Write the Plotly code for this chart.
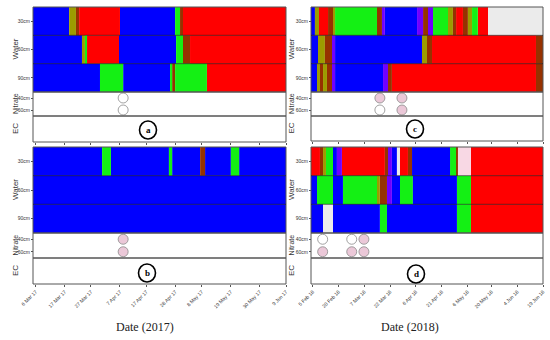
import plotly.graph_objects as go
import pandas as pd

# ---------------- DATA ----------------
# Water status per depth for each panel: segment edges (dates) and states
# States: B=wet(blue) G=green O=olive D=brown R=dry(red) P=purple W=grey K=pink
A30_EDGES = ["2017-03-05", "2017-03-18T17", "2017-03-21T07", "2017-03-22T12", "2017-04-07", "2017-04-27T22", "2017-04-29T19", "2017-04-30T22", "2017-06-09"]
A30_STATES = ["B", "O", "D", "R", "B", "G", "D", "R"]
A60_EDGES = ["2017-03-05", "2017-03-23T14", "2017-03-24T17", "2017-03-25T12", "2017-04-06T15", "2017-04-28T07", "2017-04-30T22", "2017-05-03T14", "2017-06-09"]
A60_STATES = ["B", "O", "G", "R", "B", "G", "D", "R"]
A90_EDGES = ["2017-03-05", "2017-03-30T10", "2017-04-08T05", "2017-04-26", "2017-04-26T19", "2017-04-27T22", "2017-05-10", "2017-06-09"]
A90_STATES = ["B", "G", "B", "G", "D", "G", "R"]

B30_EDGES = ["2017-03-05", "2017-03-31T05", "2017-04-03T14", "2017-04-25T14", "2017-04-26T19", "2017-05-07T10", "2017-05-09T07", "2017-05-19T02", "2017-05-22T05", "2017-06-09"]
B30_STATES = ["B", "G", "B", "G", "B", "D", "B", "G", "B"]
B60_EDGES = ["2017-03-05", "2017-06-09"]
B60_STATES = ["B"]
B90_EDGES = ["2017-03-05", "2017-06-09"]
B90_STATES = ["B"]

C30_EDGES = ["2018-02-04", "2018-02-06T07", "2018-02-08T16", "2018-02-13T22", "2018-02-16T19", "2018-02-18", "2018-03-14T10", "2018-03-17T07", "2018-03-19", "2018-04-06T17", "2018-04-10T05", "2018-04-13T02", "2018-04-16", "2018-04-24T17", "2018-04-27T14", "2018-04-29T10", "2018-05-03T10", "2018-05-06T07", "2018-05-08T17", "2018-05-12T02", "2018-05-18", "2018-06-19"]
C30_STATES = ["B", "O", "R", "D", "O", "G", "D", "P", "B", "P", "D", "P", "G", "O", "D", "R", "D", "O", "G", "R", "W"]
C60_EDGES = ["2018-02-04", "2018-02-08T02", "2018-02-12T02", "2018-02-16T05", "2018-02-18", "2018-04-09T14", "2018-04-12T12", "2018-04-15T10", "2018-06-14T22", "2018-06-19"]
C60_STATES = ["B", "O", "D", "P", "B", "O", "D", "R", "D"]
C90_EDGES = ["2018-02-04", "2018-02-07T12", "2018-02-09T05", "2018-02-11", "2018-02-13T07", "2018-02-16T05", "2018-02-18", "2018-03-17T22", "2018-03-20T19", "2018-03-23T02", "2018-06-14T22", "2018-06-19"]
C90_STATES = ["B", "O", "D", "O", "D", "P", "B", "P", "D", "R", "D"]

D30_EDGES = ["2018-02-04", "2018-02-09T05", "2018-02-11", "2018-02-12T17", "2018-02-16T19", "2018-02-19T02", "2018-02-22", "2018-03-19", "2018-03-20T19", "2018-03-23T02", "2018-03-26", "2018-03-27T19", "2018-04-01T10", "2018-04-03T19", "2018-04-25T22", "2018-04-29T10", "2018-04-30T12", "2018-05-08T02", "2018-06-19"]
D30_STATES = ["R", "D", "O", "G", "B", "P", "R", "D", "P", "B", "W", "R", "D", "B", "G", "D", "K", "R"]
D60_EDGES = ["2018-02-04", "2018-02-07T12", "2018-02-16T19", "2018-02-22T14", "2018-03-14T10", "2018-03-16T02", "2018-03-20T05", "2018-03-23T02", "2018-03-27T19", "2018-04-04T07", "2018-04-29T22", "2018-05-08T02", "2018-06-19"]
D60_STATES = ["B", "G", "B", "G", "O", "D", "P", "B", "G", "B", "G", "R"]
D90_EDGES = ["2018-02-04", "2018-02-11", "2018-02-16T19", "2018-03-16T02", "2018-03-20T05", "2018-04-29T22", "2018-05-08T02", "2018-06-19"]
D90_STATES = ["B", "W", "B", "G", "B", "G", "R"]

DEPTHS_WATER = ["30cm", "60cm", "90cm"]
DEPTHS_SOIL = ["40cm", "60cm"]

# Nitrate samples: dates and level flags (0 = low/white, 1 = high/pink)
NIT_A_DATES = ["2017-04-08T05"]
NIT_A_40 = [0]
NIT_A_60 = [0]
NIT_B_DATES = ["2017-04-08T05"]
NIT_B_40 = [1]
NIT_B_60 = [1]
NIT_C_DATES = ["2018-03-16T02", "2018-03-28T22"]
NIT_C_40 = [1, 1]
NIT_C_60 = [0, 1]
NIT_D_DATES = ["2018-02-10T19", "2018-02-27T17", "2018-03-06T19"]
NIT_D_40 = [0, 0, 1]
NIT_D_60 = [1, 1, 1]

TICKS_2017 = ["2017-03-06", "2017-03-17", "2017-03-27", "2017-04-07", "2017-04-17", "2017-04-28", "2017-05-08", "2017-05-19", "2017-05-30", "2017-06-09"]
TICKTEXT_2017 = ["6 Mar 17", "17 Mar 17", "27 Mar 17", "7 Apr 17", "17 Apr 17", "28 Apr 17", "8 May 17", "19 May 17", "30 May 17", "9 Jun 17"]
TICKS_2018 = ["2018-02-05", "2018-02-20", "2018-03-07", "2018-03-22", "2018-04-06", "2018-04-21", "2018-05-06", "2018-05-20", "2018-06-04", "2018-06-19"]
TICKTEXT_2018 = ["5 Feb 18", "20 Feb 18", "7 Mar 18", "22 Mar 18", "6 Apr 18", "21 Apr 18", "6 May 18", "20 May 18", "4 Jun 18", "19 Jun 18"]

RANGE_2017 = ["2017-03-05", "2017-06-09"]
RANGE_2018 = ["2018-02-04", "2018-06-19"]

# ---------------- STYLE ----------------
COLORS = {"B": "#0000FF", "G": "#14F014", "O": "#9C9C00", "D": "#963200",
          "R": "#FF0000", "P": "#7000FF", "W": "#EBEBEB", "K": "#F8D8E4"}
NIT_FILL = {0: "#FFFFFF", 1: "#EBC8D8"}
W, H = 550, 340
FONT = "Liberation Sans, Arial, sans-serif"


def fx(p):
    return p / W


def fy(p):
    return 1 - p / H


panels = [
    dict(name="a", xpx=(33, 286), water=(7, 92), nit=(92, 116), ec=(116, 142),
         rows=[(A30_EDGES, A30_STATES), (A60_EDGES, A60_STATES), (A90_EDGES, A90_STATES)],
         nit_dates=NIT_A_DATES, n40=NIT_A_40, n60=NIT_A_60, rng=RANGE_2017,
         ticks=TICKS_2017, ticktext=TICKTEXT_2017, labels=False, title_x=15, label_c=(148, 130)),
    dict(name="b", xpx=(33, 286), water=(147, 233), nit=(233, 258), ec=(258, 284),
         rows=[(B30_EDGES, B30_STATES), (B60_EDGES, B60_STATES), (B90_EDGES, B90_STATES)],
         nit_dates=NIT_B_DATES, n40=NIT_B_40, n60=NIT_B_60, rng=RANGE_2017,
         ticks=TICKS_2017, ticktext=TICKTEXT_2017, labels=True, title_x=15, label_c=(147, 273)),
    dict(name="c", xpx=(311, 543), water=(7, 92), nit=(92, 116), ec=(116, 141),
         rows=[(C30_EDGES, C30_STATES), (C60_EDGES, C60_STATES), (C90_EDGES, C90_STATES)],
         nit_dates=NIT_C_DATES, n40=NIT_C_40, n60=NIT_C_60, rng=RANGE_2018,
         ticks=TICKS_2018, ticktext=TICKTEXT_2018, labels=False, title_x=291, label_c=(415, 129)),
    dict(name="d", xpx=(311, 543), water=(147, 233), nit=(233, 258), ec=(258, 284),
         rows=[(D30_EDGES, D30_STATES), (D60_EDGES, D60_STATES), (D90_EDGES, D90_STATES)],
         nit_dates=NIT_D_DATES, n40=NIT_D_40, n60=NIT_D_60, rng=RANGE_2018,
         ticks=TICKS_2018, ticktext=TICKTEXT_2018, labels=True, title_x=291, label_c=(416, 274)),
]

fig = go.Figure()
layout = {}
shapes = []
annotations = []


def key(t, n):
    return t if n == 1 else f"{t}{n}"


for i, p in enumerate(panels):
    xn = i + 1
    yw, yn_, ye = 3 * i + 1, 3 * i + 2, 3 * i + 3
    xref = key("x", xn)
    groups = {}
    for d_i, (edges, states) in enumerate(p["rows"]):
        for s, e, st in zip(edges[:-1], edges[1:], states):
            g = groups.setdefault(st, dict(y=[], x=[], base=[]))
            g["y"].append(d_i)
            g["x"].append((pd.Timestamp(e) - pd.Timestamp(s)).total_seconds() * 1000)
            g["base"].append(s)
    for st, g in groups.items():
        fig.add_trace(go.Bar(orientation="h", y=g["y"], x=g["x"], base=g["base"], width=1.0,
                             marker=dict(color=COLORS[st], line=dict(width=0)),
                             xaxis=xref, yaxis=key("y", yw), showlegend=False, hoverinfo="skip"))
    for lvl_list, yv in ((p["n40"], 0), (p["n60"], 1)):
        fig.add_trace(go.Scatter(x=p["nit_dates"], y=[yv] * len(p["nit_dates"]), mode="markers",
                                 marker=dict(size=10, color=[NIT_FILL[v] for v in lvl_list],
                                             line=dict(color="#8a8a8a", width=0.8)),
                                 xaxis=xref, yaxis=key("y", yn_), showlegend=False, hoverinfo="skip",
                                 cliponaxis=False))
    layout[key("xaxis", xn)] = dict(
        type="date", domain=[fx(p["xpx"][0]), fx(p["xpx"][1])], range=p["rng"],
        anchor="free", position=fy(p["ec"][1]), side="bottom",
        tickmode="array", tickvals=p["ticks"], ticktext=p["ticktext"], showticklabels=p["labels"],
        tickangle=-45, automargin=False,
        ticks="outside", ticklen=2, tickcolor="#555", tickfont=dict(size=5, color="#333", family=FONT),
        showgrid=False, zeroline=False, showline=False, fixedrange=True)
    for yi, band, rng, tv, tt in (
            (yw, p["water"], [2.5, -0.5], [0, 1, 2], DEPTHS_WATER),
            (yn_, p["nit"], [1.5, -0.5], [0, 1], DEPTHS_SOIL),
            (ye, p["ec"], [1.5, -0.5], [0, 1], DEPTHS_SOIL)):
        layout[key("yaxis", yi)] = dict(
            domain=[fy(band[1]), fy(band[0])], range=rng, anchor="free", position=fx(p["xpx"][0]),
            tickmode="array", tickvals=tv, ticktext=tt, automargin=False,
            ticks="outside", ticklen=2, tickcolor="#555", tickfont=dict(size=5, color="#333", family=FONT),
            showgrid=False, zeroline=False, showline=False, fixedrange=True)
        shapes.append(dict(type="rect", xref="paper", yref="paper", x0=fx(p["xpx"][0]), x1=fx(p["xpx"][1]),
                           y0=fy(band[1]), y1=fy(band[0]), line=dict(color="#555", width=1),
                           fillcolor="rgba(0,0,0,0)", layer="above"))
    for yy in (0.5, 1.5):
        shapes.append(dict(type="line", xref=f"{xref} domain", yref=key("y", yw), x0=0, x1=1, y0=yy, y1=yy,
                           line=dict(color="rgba(0,0,0,0.55)", width=1), layer="above"))
    for txt, band, fs in (("Water", p["water"], 8), ("Nitrate", p["nit"], 7), ("EC", p["ec"], 8)):
        annotations.append(dict(text=txt, xref="paper", yref="paper", x=fx(p["title_x"]),
                                y=fy((band[0] + band[1]) / 2), textangle=-90, showarrow=False,
                                xanchor="center", yanchor="middle",
                                font=dict(size=fs, color="#333", family=FONT)))
    cx, cy = p["label_c"]
    shapes.append(dict(type="circle", xref="paper", yref="paper", x0=fx(cx - 8.5), x1=fx(cx + 8.5),
                       y0=fy(cy + 9), y1=fy(cy - 9), line=dict(color="black", width=1.6),
                       fillcolor="white", layer="above"))
    annotations.append(dict(text=f"<b>{p['name']}</b>", xref="paper", yref="paper", x=fx(cx), y=fy(cy),
                            xanchor="center", yanchor="middle", showarrow=False,
                            font=dict(size=9, color="black", family="Liberation Serif, serif")))

annotations.append(dict(text="Date (2017)", xref="paper", yref="paper", x=fx(145), y=fy(327), showarrow=False,
                        xanchor="center", yanchor="middle",
                        font=dict(size=12, color="#222", family="Liberation Serif, serif")))
annotations.append(dict(text="Date (2018)", xref="paper", yref="paper", x=fx(410), y=fy(327), showarrow=False,
                        xanchor="center", yanchor="middle",
                        font=dict(size=12, color="#222", family="Liberation Serif, serif")))

fig.update_layout(template="none", width=W, height=H, margin=dict(l=0, r=0, t=0, b=0, pad=0, autoexpand=False),
                  paper_bgcolor="white", plot_bgcolor="white", barmode="overlay", shapes=shapes,
                  annotations=annotations, showlegend=False, **layout)
fig.write_html("out.html", config={"displayModeBar": False},
               post_script="document.body.style.margin='0';")
